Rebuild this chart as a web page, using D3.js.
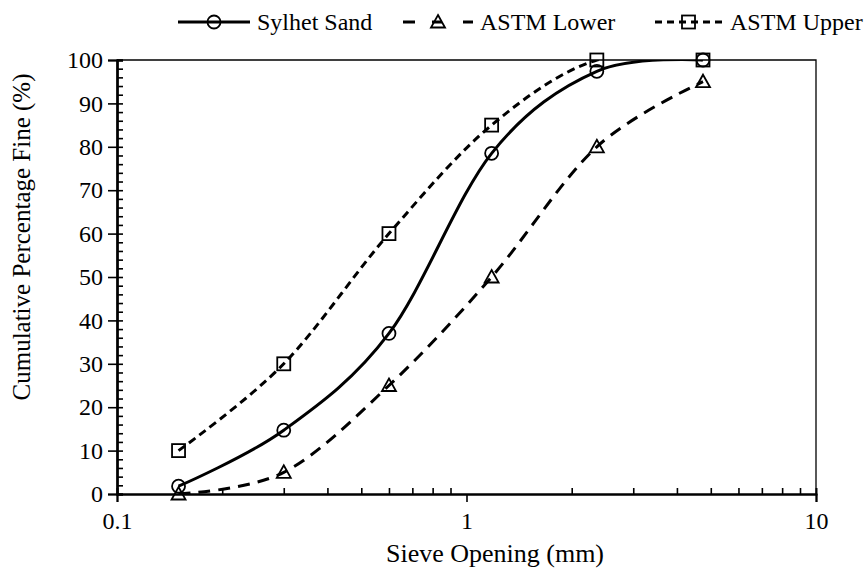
<!DOCTYPE html>
<html>
<head>
<meta charset="utf-8">
<script src="https://cdn.jsdelivr.net/npm/d3@7"></script>
<style>
  body { margin: 0; background: #fff; }
  .serif { font-family: 'Liberation Serif'; }
</style>
</head>
<body>
<svg id="chart" width="866" height="579"></svg>
<script>
// Sieve openings (mm) and cumulative percentage passing
const sieveSizes = [0.15, 0.3, 0.6, 1.18, 2.36, 4.75];
const sylhetSand = [1.8, 14.7, 37.0, 78.5, 97.4, 100];
const astmLower  = [0, 5, 25, 50, 80, 95];
const astmUpper  = [10, 30, 60, 85, 100, 100];
const seriesNames = ["Sylhet Sand", "ASTM Lower", "ASTM Upper"];

// Axis ticks
const xTickValues = [0.1, 1, 10];
const xTickLabels = ["0.1", "1", "10"];
const xMinorTicks = [0.2, 0.3, 0.4, 0.5, 0.6, 0.7, 0.8, 0.9, 2, 3, 4, 5, 6, 7, 8, 9];
const yTickValues = [0, 10, 20, 30, 40, 50, 60, 70, 80, 90, 100];
const yMinorTicks = d3.range(0, 101, 2).filter(v => v % 10 !== 0);

const xTitle = "Sieve Opening (mm)";
const yTitle = "Cumulative Percentage Fine (%)";

const FONT = 24;

const svg = d3.select("#chart");
const plot = { left: 117, right: 816, top: 60, bottom: 494 };

const x = d3.scaleLog().domain([0.1, 10]).range([plot.left, plot.right]);
const y = d3.scaleLinear().domain([0, 100]).range([plot.bottom, plot.top]);

// Plot frame: thin top/right border
svg.append("path")
  .attr("d", `M${plot.left},${plot.top}H${plot.right}V${plot.bottom}`)
  .attr("fill", "none").attr("stroke", "#000").attr("stroke-width", 1.3);

// Y axis: major ticks outward with labels, inward ticks and minor ticks
svg.append("g").attr("transform", `translate(${plot.left},0)`)
  .call(d3.axisLeft(y).tickValues(yTickValues).tickSize(9).tickPadding(5).tickFormat(d3.format("d")));
svg.append("g").attr("transform", `translate(${plot.left},0)`)
  .call(d3.axisRight(y).tickValues(yTickValues).tickSize(6).tickFormat(""));
svg.append("g").attr("transform", `translate(${plot.left},0)`)
  .call(d3.axisRight(y).tickValues(yMinorTicks).tickSize(6).tickFormat(""));

// X axis: major ticks outward with labels, minor ticks inward
svg.append("g").attr("transform", `translate(0,${plot.bottom})`)
  .call(d3.axisBottom(x).tickValues(xTickValues).tickSize(8).tickPadding(10)
    .tickFormat((d, i) => xTickLabels[i]));
svg.append("g").attr("transform", `translate(0,${plot.bottom})`)
  .call(d3.axisTop(x).tickValues(xMinorTicks).tickSize(6).tickFormat(""));

svg.selectAll("g").attr("font-family", null);
svg.selectAll(".domain").attr("stroke-width", 2).attr("stroke", "#000");
svg.selectAll(".tick line").attr("stroke", "#000").attr("stroke-width", 1.6);
svg.selectAll(".tick text").attr("class", "serif")
  .attr("font-size", FONT).attr("fill", "#000");

// Axis titles
svg.append("text").attr("class", "serif")
  .attr("x", 495).attr("y", 562)
  .attr("text-anchor", "middle").attr("font-size", 26)
  .text(xTitle);
svg.append("text").attr("class", "serif")
  .attr("transform", "translate(30,237) rotate(-90)")
  .attr("text-anchor", "middle").attr("font-size", 25)
  .text(yTitle);

// Series definitions (legendDash spaces the short legend sample around its marker)
const series = [
  { name: seriesNames[0], values: sylhetSand, dash: null,   legendDash: null,                     marker: "circle" },
  { name: seriesNames[1], values: astmLower,  dash: "12,8", legendDash: "12,17,10,21,10,100",     marker: "triangle" },
  { name: seriesNames[2], values: astmUpper,  dash: "8,5",  legendDash: "7,5",                    marker: "square" }
];

svg.append("clipPath").attr("id", "plotClip")
  .append("rect")
  .attr("x", plot.left).attr("y", plot.top)
  .attr("width", plot.right - plot.left).attr("height", plot.bottom - plot.top);

const line = d3.line()
  .x(d => x(d[0])).y(d => y(d[1]))
  .curve(d3.curveCatmullRom.alpha(0));

function drawMarker(g, type, cx, cy) {
  if (type === "circle") {
    g.append("circle").attr("cx", cx).attr("cy", cy).attr("r", 6.5)
      .attr("fill", "none").attr("stroke", "#000").attr("stroke-width", 1.8);
  } else if (type === "square") {
    g.append("rect").attr("x", cx - 6.5).attr("y", cy - 6.5)
      .attr("width", 13).attr("height", 13)
      .attr("fill", "none").attr("stroke", "#000").attr("stroke-width", 1.8);
  } else {
    g.append("path")
      .attr("d", `M${cx},${cy - 7}L${cx + 7},${cy + 5.5}L${cx - 7},${cy + 5.5}Z`)
      .attr("fill", "none").attr("stroke", "#000").attr("stroke-width", 1.8)
      .attr("stroke-linejoin", "miter");
  }
}

const linesG = svg.append("g").attr("clip-path", "url(#plotClip)");
const markersG = svg.append("g");

series.forEach(s => {
  const pts = sieveSizes.map((v, i) => [v, s.values[i]]);
  linesG.append("path")
    .attr("d", line(pts))
    .attr("fill", "none").attr("stroke", "#000").attr("stroke-width", 3)
    .attr("stroke-dasharray", s.dash);
  pts.forEach(p => drawMarker(markersG, s.marker, x(p[0]), y(p[1])));
});

// Legend along the top
const legendPos = [
  { x0: 178, x1: 250, tx: 257 },
  { x0: 403, x1: 473, tx: 480 },
  { x0: 655, x1: 722, tx: 730 }
];
const legendY = 22;
series.forEach((s, i) => {
  const p = legendPos[i];
  const g = svg.append("g");
  g.append("line")
    .attr("x1", p.x0).attr("x2", p.x1).attr("y1", legendY).attr("y2", legendY)
    .attr("stroke", "#000").attr("stroke-width", 3)
    .attr("stroke-dasharray", s.legendDash);
  drawMarker(g, s.marker, (p.x0 + p.x1) / 2, legendY);
  g.append("text").attr("class", "serif").attr("x", p.tx).attr("y", legendY + 8)
    .attr("font-size", FONT).text(s.name);
});
</script>
</body>
</html>
